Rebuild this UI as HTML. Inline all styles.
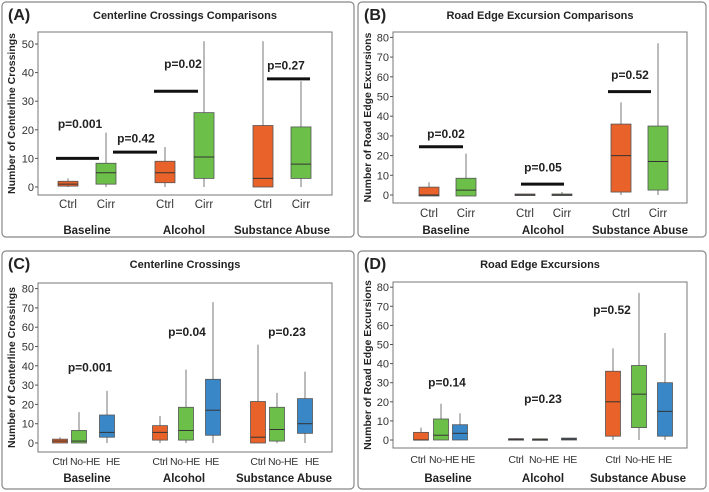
<!DOCTYPE html>
<html><head><meta charset="utf-8"><style>
body{margin:0;background:#fff;}
svg{display:block;font-family:"Liberation Sans",sans-serif;}
</style></head><body>
<svg id="c" width="709" height="492" viewBox="0 0 709 492"></svg>
<script>
// Panel A data [whiskerLo, q1, median, q3, whiskerHi]
const catsA = ["Ctrl","Cirr","Ctrl","Cirr","Ctrl","Cirr"];
const boxesA = [[0,0.3,1,2,3],[0,1,5,8.3,19],[0,1.5,5,9,14],[0,3,10.5,26,51],[0,0,3,21.5,51],[0,3,8,21,37]];
const sigA = [10,12.2,33.5,37.8];
const pA = ["p=0.001","p=0.42","p=0.02","p=0.27"];
const pYA = [22,17,43,42.5];
const ticksA = [0,10,20,30,40,50];
// Panel B
const catsB = ["Ctrl","Cirr","Ctrl","Cirr","Ctrl","Cirr"];
const boxesB = [[0,-0.5,0,4,6.5],[0,-0.5,2.5,8.5,21],[0,-0.2,0,0.5,0.5],[0,-0.2,0,0.5,1.5],[0,1.5,20,36,47],[0,2.5,17,35,77]];
const sigB = [24.5,5.5,52.5];
const pB = ["p=0.02","p=0.05","p=0.52"];
const pYB = [31,14,61];
const ticksB = [0,10,20,30,40,50,60,70,80];
// Panel C
const catsC = ["Ctrl","No-HE","HE","Ctrl","No-HE","HE","Ctrl","No-HE","HE"];
const boxesC = [[0,0,1,2,3],[0,0,1,6.5,16],[0,3,5.5,14.5,27],[0,1.5,5.5,9,14],[0,1.5,6.5,18.5,38],[0,4,17,33,73],[0,0,3,21.5,51],[0,1,7,18.5,26],[0,5,10,23,37]];
const pC = ["p=0.001","p=0.04","p=0.23"];
const pYC = [39,57.5,57.5];
const ticksC = [0,10,20,30,40,50,60,70,80];
// Panel D
const catsD = ["Ctrl","No-HE","HE","Ctrl","No-HE","HE","Ctrl","No-HE","HE"];
const boxesD = [[0,0,0,4,6.5],[0,0,2.5,11,19],[0,0,3.5,8,14],[0,0,0.3,0.7,1],[0,0,0.3,0.6,0.6],[0,0,0.5,1,1],[0,2,20,36,48],[0,6.5,24,39,77],[0,2,15,30,56]];
const pD = ["p=0.14","p=0.23","p=0.52"];
const pYD = [30,21.5,68];
const ticksD = [0,10,20,30,40,50,60,70,80];
const groups = ["Baseline","Alcohol","Substance Abuse"];

const NS="http://www.w3.org/2000/svg";
const svg=document.getElementById('c');
function mk(t,a,p){const e=document.createElementNS(NS,t);for(const k in a)e.setAttribute(k,a[k]);(p||svg).appendChild(e);return e;}
const COL={"Ctrl":"#e8622a","Cirr":"#6cc04a","No-HE":"#6cc04a","HE":"#3a87c8"};

function panel(o){
  const g=mk('g',{});
  
  
  const fr=mk('rect',{x:o.fx,y:o.fy,width:o.fw,height:o.fh,rx:4,fill:'none',stroke:'#888','stroke-width':1.2},g);
  
  const lab=mk('text',{x:o.fx+6,y:o.fy+18,'font-size':16,'font-weight':'bold',fill:'#222'},g);lab.textContent='('+o.id+')';
  
  const ti=mk('text',{x:o.px+(o.pw)/2,y:o.fy+17,'font-size':11,'font-weight':'bold','text-anchor':'middle',fill:'#222'},g);ti.textContent=o.title;
  
  const y=v=>o.y0-v*o.k;
  const pr=mk('rect',{x:o.px,y:o.py,width:o.pw,height:o.ph,fill:'none',stroke:'#777','stroke-width':1},g);
  
  o.ticks.forEach(t=>{
    mk('line',{x1:o.px-3,x2:o.px,y1:y(t),y2:y(t),stroke:'#555'},g);
    const tx=mk('text',{x:o.px-4,y:y(t)+4,'font-size':11,'text-anchor':'end',fill:'#333'},g);tx.textContent=t;
    
  });
  const at=mk('text',{x:0,y:0,'font-size':10.5,'font-weight':'bold','text-anchor':'middle',fill:'#222',transform:`translate(${o.fx+13},${(o.py+o.py+o.ph)/2}) rotate(-90)`},g);
  at.textContent=o.ytitle;
  o.cats.forEach((c,i)=>{
    const cx=o.cx[i],b=o.boxes[i],w=o.bw;
    const wl=mk('line',{x1:cx,x2:cx,y1:y(b[0]),y2:y(b[4]),stroke:'#777','stroke-width':1},g);
    
    const r=mk('rect',{x:cx-w/2,y:y(b[3]),width:w,height:Math.max(1.5,y(b[1])-y(b[3])),fill:COL[c],stroke:'#555','stroke-width':0.8},g);
    
    mk('line',{x1:cx-w/2,x2:cx+w/2,y1:y(b[2]),y2:y(b[2]),stroke:'#333','stroke-width':1},g);
    const cl=mk('text',{x:o.lx[i],y:o.catY,'font-size':o.cfs,'text-anchor':'middle',fill:'#333','letter-spacing':o.cls},g);cl.textContent=c;
    
  });
  groups.forEach((gn,i)=>{
    const t=mk('text',{x:o.gx[i],y:o.grpY,'font-size':11.5,'font-weight':'bold','text-anchor':'middle',fill:'#222'},g);t.textContent=gn;
    
  });
  (o.sig||[]).forEach((s,i)=>{
    const l=mk('line',{x1:o.sx[i][0],x2:o.sx[i][1],y1:y(s),y2:y(s),stroke:'#111','stroke-width':3},g);
    
  });
  o.p.forEach((p,i)=>{
    const t=mk('text',{x:o.plx[i],y:y(o.pY[i])+4,'font-size':12,'font-weight':'bold','text-anchor':'middle',fill:'#222'},g);t.textContent=p;
    
  });
}
panel({id:'A',title:'Centerline Crossings Comparisons',ytitle:'Number of Centerline Crossings',fx:2,fy:2,fw:352,fh:235,px:38,py:32,pw:294,ph:163,y0:187,k:2.86,ticks:ticksA,cats:catsA,boxes:boxesA,bw:20,
 cx:[68,106,165,204,263,301],lx:[68,106,165,204,263,301],cfs:11.5,cls:0,gx:[87,184,282],catY:208,grpY:234,sig:sigA,sx:[[56,99],[113,157],[154,198],[267,310]],p:pA,pY:pYA,plx:[80,136,183,286]});
panel({id:'B',title:'Road Edge Excursion Comparisons',ytitle:'Number of Road Edge Excursions',fx:358,fy:2,fw:348,fh:235,px:393,py:32,pw:294,ph:171,y0:195,k:1.97,ticks:ticksB,cats:catsB,boxes:boxesB,bw:20,
 cx:[429,466,525,562,621,658],lx:[429,466,525,562,621,658],cfs:11.5,cls:0,gx:[446,543,640],catY:217,grpY:234,sig:sigB,sx:[[419,463],[521,564],[608,651]],p:pB,pY:pYB,plx:[446,543,630]});
panel({id:'C',title:'Centerline Crossings',ytitle:'Number of Centerline Crossings',fx:2,fy:251,fw:352,fh:238,px:38,py:283,pw:294,ph:169,y0:443,k:1.93,ticks:ticksC,cats:catsC,boxes:boxesC,bw:15,
 cx:[60,79,107,160,186,213,258,277,305],lx:[60,85,113,160,185,212,258,283,312],cfs:10.5,cls:-0.3,gx:[87,184,284],catY:465,grpY:482,sig:[],sx:[],p:pC,pY:pYC,plx:[90,187,287]});
panel({id:'D',title:'Road Edge Excursions',ytitle:'Number of Road Edge Excursions',fx:358,fy:251,fw:348,fh:238,px:393,py:282,pw:294,ph:166,y0:440,k:1.91,ticks:ticksD,cats:catsD,boxes:boxesD,bw:15,
 cx:[421,441,460,516,540,569,613,639,665],lx:[418,444,468,516,544,570,613,640,665],cfs:10.5,cls:-0.3,gx:[448,543,638],catY:463,grpY:482,sig:[],sx:[],p:pD,pY:pYD,plx:[447,543,612]});
</script>
</body></html>
